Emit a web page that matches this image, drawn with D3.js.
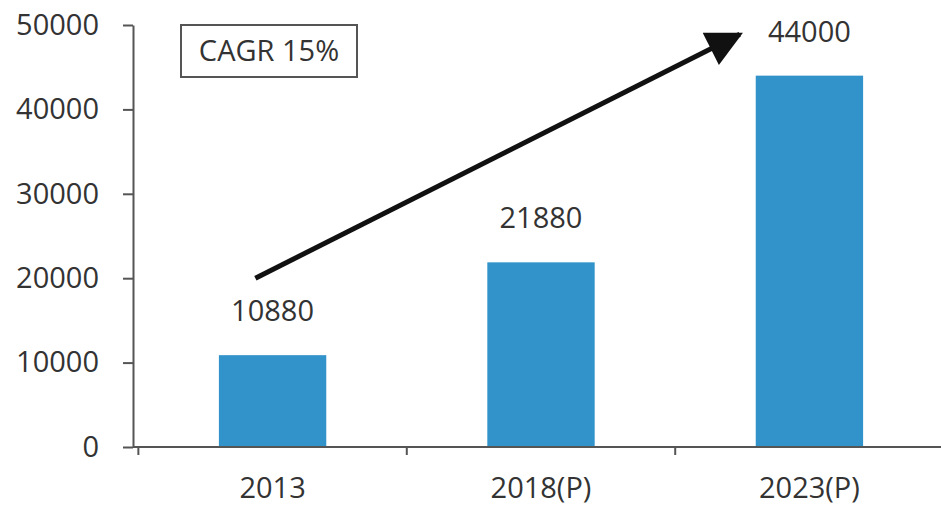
<!DOCTYPE html>
<html>
<head>
<meta charset="utf-8">
<script src="https://cdn.jsdelivr.net/npm/d3@7"></script>
<style>
  body { margin: 0; background: #fff; }
  text { font-family: "Open Sans", sans-serif; fill: #333; }
</style>
</head>
<body>
<div id="chart"></div>
<script>
const categories = ['2013', '2018(P)', '2023(P)'];
const values = [10880, 21880, 44000];
const yTicks = [0, 10000, 20000, 30000, 40000, 50000];
const cagrLabel = 'CAGR 15%';
// arrow drawn in data terms: from near the 2013 bar up to beside the 2023 bar
const arrowFrom = { cat: '2013', value: 20000 };
const arrowTo = { cat: '2023(P)', value: 48900 };

const width = 941, height = 506;
const margin = { top: 25, right: -8, bottom: 59, left: 133 };
const fontSize = '29px';

const svg = d3.select('#chart').append('svg')
    .attr('width', width)
    .attr('height', height);

const x = d3.scaleBand()
    .domain(categories)
    .range([margin.left, width - margin.right])
    .paddingInner(0.6)
    .paddingOuter(0.32);

const y = d3.scaleLinear()
    .domain([0, 50000])
    .range([height - margin.bottom, margin.top]);

// bars
svg.append('g')
    .selectAll('rect')
    .data(values)
    .join('rect')
    .attr('x', (d, i) => x(categories[i]))
    .attr('y', d => y(d))
    .attr('width', x.bandwidth())
    .attr('height', d => y(0) - y(d))
    .attr('fill', '#3292ca');

// value labels
svg.append('g')
    .selectAll('text')
    .data(values)
    .join('text')
    .attr('x', (d, i) => x(categories[i]) + x.bandwidth() / 2)
    .attr('y', d => y(d) - 34)
    .attr('text-anchor', 'middle')
    .style('font-size', fontSize)
    .text(d => d);

// y axis
const yAxis = svg.append('g')
    .attr('transform', `translate(${margin.left},0)`)
    .call(d3.axisLeft(y).tickValues(yTicks).tickFormat(d3.format('d'))
        .tickSize(10).tickSizeOuter(0).tickPadding(24));
yAxis.select('.domain').attr('stroke', '#555').attr('stroke-width', 2);
yAxis.selectAll('.tick line').attr('stroke', '#555').attr('stroke-width', 2);
yAxis.selectAll('.tick text')
    .style('font-size', fontSize)
    .style('font-family', '"Open Sans", sans-serif')
    .attr('fill', '#333');

// x axis with ticks at band boundaries
const step = x.step();
const boundaries = categories.map(c => x(c) - (step - x.bandwidth()) / 2);
const xg = svg.append('g');
xg.append('line')
    .attr('x1', margin.left)
    .attr('x2', width)
    .attr('y1', y(0))
    .attr('y2', y(0))
    .attr('stroke', '#555')
    .attr('stroke-width', 2);
xg.selectAll('.bt')
    .data(boundaries)
    .join('line')
    .attr('class', 'bt')
    .attr('x1', d => d)
    .attr('x2', d => d)
    .attr('y1', y(0))
    .attr('y2', y(0) + 8)
    .attr('stroke', '#555')
    .attr('stroke-width', 2);
xg.selectAll('text')
    .data(categories)
    .join('text')
    .attr('x', d => x(d) + x.bandwidth() / 2)
    .attr('y', y(0) + 51)
    .attr('text-anchor', 'middle')
    .style('font-size', fontSize)
    .text(d => d);

// CAGR box
const box = svg.append('g').attr('transform', 'translate(181,25)');
box.append('rect')
    .attr('width', 176)
    .attr('height', 52)
    .attr('fill', '#fff')
    .attr('stroke', '#555')
    .attr('stroke-width', 2);
box.append('text')
    .attr('x', 88)
    .attr('y', 36)
    .attr('text-anchor', 'middle')
    .style('font-size', '29px')
    .text(cagrLabel);

// arrow
svg.append('defs').append('marker')
    .attr('id', 'head')
    .attr('viewBox', '0 0 10 10')
    .attr('refX', 9)
    .attr('refY', 5)
    .attr('markerWidth', 50)
    .attr('markerHeight', 36)
    .attr('markerUnits', 'userSpaceOnUse')
    .attr('orient', 'auto')
    .append('path')
    .attr('d', 'M0,0 L10,5 L0,10 Z')
    .attr('fill', '#111');

svg.append('line')
    .attr('x1', x(arrowFrom.cat) + x.bandwidth() * 0.34)
    .attr('y1', y(arrowFrom.value))
    .attr('x2', x(arrowTo.cat) - 16)
    .attr('y2', y(arrowTo.value))
    .attr('stroke', '#111')
    .attr('stroke-width', 5)
    .attr('marker-end', 'url(#head)');
</script>
</body>
</html>
